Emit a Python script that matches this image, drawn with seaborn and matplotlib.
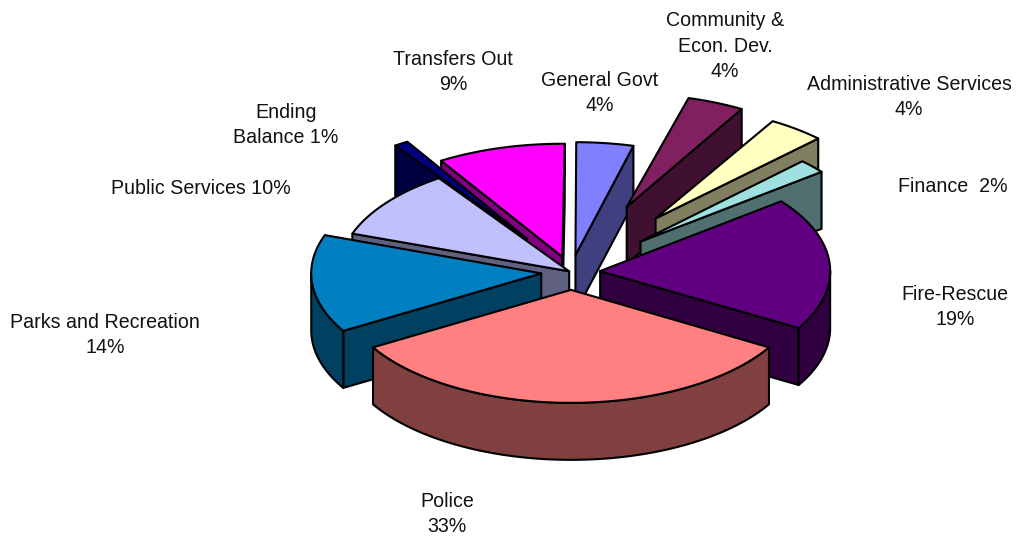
import numpy as np
import pandas as pd
import seaborn as sns
import matplotlib
matplotlib.use("Agg")
import matplotlib.pyplot as plt
from matplotlib.patches import Polygon

# Budget shares, clockwise from twelve o'clock
categories = ["General Govt", "Community & Econ. Dev.", "Administrative Services", "Finance",
              "Fire-Rescue", "Police", "Parks and Recreation", "Public Services",
              "Ending Balance", "Transfers Out"]
shares = [4, 4, 4, 2, 19, 33, 14, 10, 1, 9]
explode = [0.15, 0.625, 0.60, 0.405, 0.127, 0.158, 0.13, 0.01, 0.355, 0.14]
turn_deg = [0.2, 1.2, 1.8, 1.5, 1.5, 1.8, 1.8, 1.5, 1.2, 0.6]
top_colors = ["#8080FF", "#802060", "#FFFFC0", "#A0E0E0", "#600080",
              "#FF8080", "#0080C0", "#C0C0FF", "#000080", "#FF00FF"]
label_texts = ["General Govt\n4%", "Community &\nEcon. Dev.\n4%", "Administrative Services\n4%",
               "Finance  2%", "Fire-Rescue\n19%", "Police\n33%", "Parks and Recreation\n14%",
               "Public Services 10%", "Ending\nBalance 1%", "Transfers Out\n9%"]
label_x = [600, 725, 909, 953, 955, 447, 105, 201, 286, 453]
label_y = [93, 46, 97, 187, 307, 514, 335, 189, 125, 72]

sns.set_theme(style="white")
plt.rcParams["font.family"] = ["Liberation Sans", "DejaVu Sans"]

df = pd.DataFrame({"name": categories, "share": shares, "pull": explode, "turn": turn_deg,
                   "label": label_texts, "lx": label_x, "ly": label_y})
df["end"] = df["share"].cumsum() * 3.6 + df["turn"]
df["start"] = df["end"] - df["share"] * 3.6
palette = sns.color_palette(top_colors)

# Tilted pie geometry in pixel space
CX, CY = 571, 272
RX, RY, DEPTH = 230, 113, 57
EDGE = dict(edgecolor="black", linewidth=1.5, joinstyle="round")


def rim(angles, ox, oy):
    a = np.radians(angles)
    return np.column_stack([ox + RX * np.sin(a), oy - RY * np.cos(a)])


def draw_slice(ax, row, color):
    mid = np.radians((row["start"] + row["end"]) / 2)
    ox = CX + row["pull"] * RX * np.sin(mid)
    oy = CY - row["pull"] * RY * np.cos(mid)
    side = tuple(0.5 * c for c in color)
    drop = np.array([0, DEPTH])
    apex = np.array([ox, oy])

    # Radial cut faces that turn toward the viewer
    for angle, visible in ((row["start"], np.sin(np.radians(row["start"])) < -1e-6),
                           (row["end"], np.sin(np.radians(row["end"])) > 1e-6)):
        if visible:
            outer = rim([angle], ox, oy)[0]
            ax.add_patch(Polygon([apex, outer, outer + drop, apex + drop], closed=True,
                                 facecolor=side, **EDGE))

    # Outer wall along the front half of the ellipse
    lo, hi = max(row["start"], 90), min(row["end"], 270)
    if lo < hi:
        arc = rim(np.linspace(lo, hi, 80), ox, oy)
        ax.add_patch(Polygon(np.vstack([arc, arc[::-1] + drop]), closed=True,
                             facecolor=side, **EDGE))

    # Top face
    arc = rim(np.linspace(row["start"], row["end"], 80), ox, oy)
    ax.add_patch(Polygon(np.vstack([apex, arc]), closed=True, facecolor=color, **EDGE))


fig = plt.figure(figsize=(10.16, 5.36), dpi=100, facecolor="white")
ax = fig.add_axes([0, 0, 1, 1])
ax.set_xlim(0, 1016)
ax.set_ylim(536, 0)
ax.axis("off")

# Paint from the back of the pie to the front
paint_order = ["Transfers Out", "Ending Balance", "Public Services", "General Govt",
               "Community & Econ. Dev.", "Administrative Services", "Finance",
               "Fire-Rescue", "Parks and Recreation", "Police"]
for name in paint_order:
    i = categories.index(name)
    draw_slice(ax, df.iloc[i], palette[i])

for row in df.itertuples():
    ax.text(row.lx, row.ly, row.label, ha="center", va="center", fontsize=14.15,
            linespacing=1.43, color="#111111")

fig.savefig("out.png", dpi=100, facecolor="white")
